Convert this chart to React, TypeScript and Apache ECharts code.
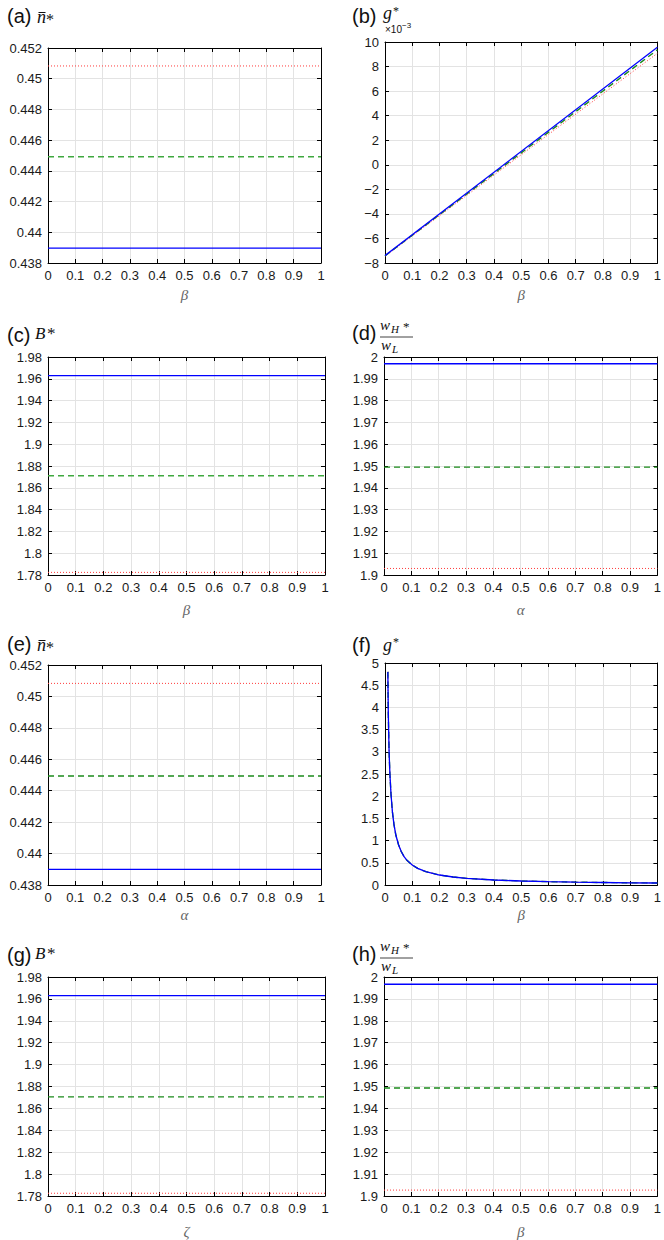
import React, { useEffect, useRef } from "react";
import * as echarts from "echarts";

// ---------------- data ----------------
const unitX = [0, 1];
const xTickMin = 0;
const xTickMax = 1;
const xTickStep = 0.1;

// (a) n̄* vs β
const aRed = [0.45083, 0.45083];
const aGreen = [0.44492, 0.44492];
const aBlue = [0.43897, 0.43897];

// (b) g* (×10^-3) vs β
const bRed = [-7.45, 9.08];
const bGreen = [-7.42, 9.36];
const bBlue = [-7.4, 9.57];

// (c) B* vs β
const cRed = [1.7824, 1.7824];
const cGreen = [1.871, 1.871];
const cBlue = [1.963, 1.963];

// (d) wH*/wL vs α
const dRed = [1.903, 1.903];
const dGreen = [1.9495, 1.9495];
const dBlue = [1.9969, 1.9969];

// (e) n̄* vs α
const eRed = [0.45083, 0.45083];
const eGreen = [0.44494, 0.44494];
const eBlue = [0.439, 0.439];

// (f) g* vs β
const fBeta = [0.0105, 0.012, 0.015, 0.018, 0.022, 0.027, 0.033, 0.04, 0.05, 0.06, 0.07, 0.08, 0.1, 0.12, 0.15, 0.2, 0.25, 0.3, 0.4, 0.5, 0.6, 0.7, 0.8, 0.9, 1.0];
const fRed = [4.8, 3.9, 3.0, 2.5, 2.05, 1.66, 1.36, 1.12, 0.9, 0.75, 0.64, 0.56, 0.45, 0.375, 0.3, 0.225, 0.18, 0.15, 0.113, 0.09, 0.075, 0.064, 0.056, 0.05, 0.045];
const fGreen = [4.8, 3.9, 3.0, 2.5, 2.05, 1.66, 1.36, 1.12, 0.9, 0.75, 0.64, 0.56, 0.45, 0.375, 0.3, 0.225, 0.18, 0.15, 0.113, 0.09, 0.075, 0.064, 0.056, 0.05, 0.045];
const fBlue = [4.8, 3.9, 3.0, 2.5, 2.05, 1.66, 1.36, 1.12, 0.9, 0.75, 0.64, 0.56, 0.45, 0.375, 0.3, 0.225, 0.18, 0.15, 0.113, 0.09, 0.075, 0.064, 0.056, 0.05, 0.045];

// (g) B* vs ζ
const gRed = [1.7825, 1.7825];
const gGreen = [1.8705, 1.8705];
const gBlue = [1.963, 1.963];

// (h) wH*/wL vs β
const hRed = [1.9027, 1.9027];
const hGreen = [1.9493, 1.9493];
const hBlue = [1.9967, 1.9967];

// y-axis ranges per panel
const yMins = [0.438, -8, 1.78, 1.9, 0.438, 0, 1.78, 1.9];
const yMaxs = [0.452, 10, 1.98, 2.0, 0.452, 5, 1.98, 2.0];
const yIntervals = [0.002, 2, 0.02, 0.01, 0.002, 0.5, 0.02, 0.01];
const xNames = ["β", "β", "β", "α", "α", "β", "ζ", "β"];

// ---------------- layout (positions / styles) ----------------
const layout = [
  { left: 48, top: 48, width: 273, height: 215, nameGap: 24 },
  { left: 385, top: 42, width: 280, height: 221, nameGap: 24 },
  { left: 48, top: 357, width: 277, height: 218, nameGap: 27 },
  { left: 384, top: 357, width: 278.5, height: 218, nameGap: 27 },
  { left: 48, top: 665, width: 273, height: 220, nameGap: 22 },
  { left: 385, top: 663, width: 280, height: 222, nameGap: 22 },
  { left: 48, top: 977, width: 277, height: 219, nameGap: 28 },
  { left: 384, top: 977, width: 278.5, height: 219, nameGap: 28 },
];

const RED = "#ff3b3b";
const GREEN_LIGHT = "#3fa83f";
const GREEN = "#1b8a1b";
const BLUE = "#0000ff";

const pairs = (xs: number[], ys: number[]) => xs.map((x, i) => [x, ys[i]]);

const panelSeries = [
  [aRed, aGreen, aBlue, unitX],
  [bRed, bGreen, bBlue, unitX],
  [cRed, cGreen, cBlue, unitX],
  [dRed, dGreen, dBlue, unitX],
  [eRed, eGreen, eBlue, unitX],
  [fRed, fGreen, fBlue, fBeta],
  [gRed, gGreen, gBlue, unitX],
  [hRed, hGreen, hBlue, unitX],
];
const greenColors = [GREEN_LIGHT, GREEN, GREEN_LIGHT, GREEN, GREEN, GREEN, GREEN, GREEN];

const SANS = '"Liberation Sans", Arial, sans-serif';
const SERIF = '"Liberation Serif", "DejaVu Serif", serif';

function txt(x: number, y: number, text: string, font: string, fill = "#111") {
  return {
    type: "text",
    x,
    y,
    silent: true,
    style: {
      text,
      font,
      fill,
      textAlign: "left",
      textVerticalAlign: "middle",
      align: "left",
      verticalAlign: "middle",
    },
  };
}
function seg(x1: number, y1: number, x2: number, y2: number, w = 1) {
  return {
    type: "line",
    silent: true,
    shape: { x1, y1, x2, y2 },
    style: { stroke: "#111", lineWidth: w },
  };
}

const sans20 = `normal 20px ${SANS}`;
const serifI18 = `italic 18px ${SERIF}`;
const serifI17 = `italic 17px ${SERIF}`;
const serifI15 = `italic 15px ${SERIF}`;
const serifI11 = `italic 11px ${SERIF}`;

function nbarTitle(label: string, dy: number) {
  return [
    txt(7, 16 + dy, label, sans20),
    txt(37, 17 + dy, "n", serifI18),
    seg(38.5, 12.5 + dy, 45.5, 12.5 + dy, 1),
    txt(46, 19 + dy, "*", `normal 16px ${SERIF}`),
  ];
}
function gTitle(label: string, dy: number, gy = 15.5) {
  return [
    txt(352, 16 + dy, label, sans20),
    txt(383, gy + dy, "g", serifI18),
    txt(393, gy - 2.5 + dy, "*", `normal 12px ${SERIF}`),
  ];
}
function bTitle(label: string, dy: number) {
  return [
    txt(7, 335 + dy, label, sans20),
    txt(35, 333.5 + dy, "B", serifI17),
    txt(47, 333.5 + dy, "*", `normal 17px ${SERIF}`),
  ];
}
function fracTitle(label: string, dy: number) {
  return [
    txt(352, 333 + dy, label, sans20),
    txt(380, 325 + dy, "w", serifI15),
    txt(391, 329.3 + dy, "H", serifI11),
    txt(403, 326.6 + dy, "*", `normal 13px ${SERIF}`),
    seg(380, 337 + dy, 413, 337 + dy, 0.8),
    txt(381, 345 + dy, "w", serifI15),
    txt(392, 349.3 + dy, "L", serifI11),
  ];
}

const graphics = [
  ...nbarTitle("(a)", 0),
  ...gTitle("(b)", 0, 13),
  txt(385, 29.5, "×10", `normal 10px ${SANS}`),
  txt(402, 25.5, "−3", `normal 8px ${SANS}`),
  ...bTitle("(c)", 0),
  ...fracTitle("(d)", 0),
  ...nbarTitle("(e)", 628),
  ...gTitle("(f)", 629),
  ...bTitle("(g)", 620),
  ...fracTitle("(h)", 621),
];

function buildOption() {
  const grid: any[] = [];
  const xAxis: any[] = [];
  const yAxis: any[] = [];
  const series: any[] = [];
  const axisLine = { show: true, onZero: false, lineStyle: { color: "#000", width: 1 } };
  const axisTick = { show: true, inside: true, length: 4, lineStyle: { color: "#000", width: 1 } };
  const labelStyle = { color: "#1a1a1a", fontSize: 13, fontFamily: SANS, showMinLabel: true, showMaxLabel: true };
  const minusFmt = (v: number) => {
    const s = String(Math.round(v * 1e6) / 1e6);
    return s.replace("-", "−");
  };

  layout.forEach((p, i) => {
    grid.push({ left: p.left, top: p.top, width: p.width, height: p.height, containLabel: false });
    xAxis.push({
      type: "value",
      gridIndex: i,
      min: xTickMin,
      max: xTickMax,
      interval: xTickStep,
      position: "bottom",
      axisLine,
      axisTick,
      axisLabel: { ...labelStyle, margin: 6 },
      splitLine: { show: true, lineStyle: { color: "#e3e3e3", width: 1 } },
      name: xNames[i],
      nameLocation: "middle",
      nameGap: p.nameGap,
      nameTextStyle: { fontFamily: SERIF, fontStyle: "italic", fontSize: 15, color: "#666" },
    });
    xAxis.push({
      type: "value",
      gridIndex: i,
      min: xTickMin,
      max: xTickMax,
      interval: xTickStep,
      position: "top",
      axisLine,
      axisTick,
      axisLabel: { show: false },
      splitLine: { show: false },
    });
    yAxis.push({
      type: "value",
      gridIndex: i,
      min: yMins[i],
      max: yMaxs[i],
      interval: yIntervals[i],
      position: "left",
      axisLine,
      axisTick,
      axisLabel: { ...labelStyle, margin: 6, formatter: minusFmt },
      splitLine: { show: true, lineStyle: { color: "#e3e3e3", width: 1 } },
    });
    yAxis.push({
      type: "value",
      gridIndex: i,
      min: yMins[i],
      max: yMaxs[i],
      interval: yIntervals[i],
      position: "right",
      axisLine,
      axisTick,
      axisLabel: { show: false },
      splitLine: { show: false },
    });

    const [r, g, b, xs] = panelSeries[i];
    const base = {
      type: "line",
      xAxisIndex: 2 * i,
      yAxisIndex: 2 * i,
      showSymbol: false,
      symbol: "none",
      silent: true,
    };
    series.push({ ...base, data: pairs(xs, r), lineStyle: { color: RED, width: 1, type: [1, 2] } });
    series.push({ ...base, data: pairs(xs, g), lineStyle: { color: greenColors[i], width: 1.4, type: [6, 4] } });
    series.push({ ...base, data: pairs(xs, b), lineStyle: { color: BLUE, width: 1.3, type: "solid" } });
  });

  return {
    animation: false,
    backgroundColor: "#ffffff",
    grid,
    xAxis,
    yAxis,
    series,
    graphic: { elements: graphics },
  };
}

export default function App() {
  const ref = useRef<HTMLDivElement>(null);
  useEffect(() => {
    if (!ref.current) return;
    const chart = echarts.init(ref.current, undefined, { renderer: "svg" });
    chart.setOption(buildOption() as any);
    return () => chart.dispose();
  }, []);
  return (
    <div
      ref={ref}
      style={{ position: "absolute", left: 0, top: 0, width: 664, height: 1240, background: "#fff" }}
    />
  );
}
